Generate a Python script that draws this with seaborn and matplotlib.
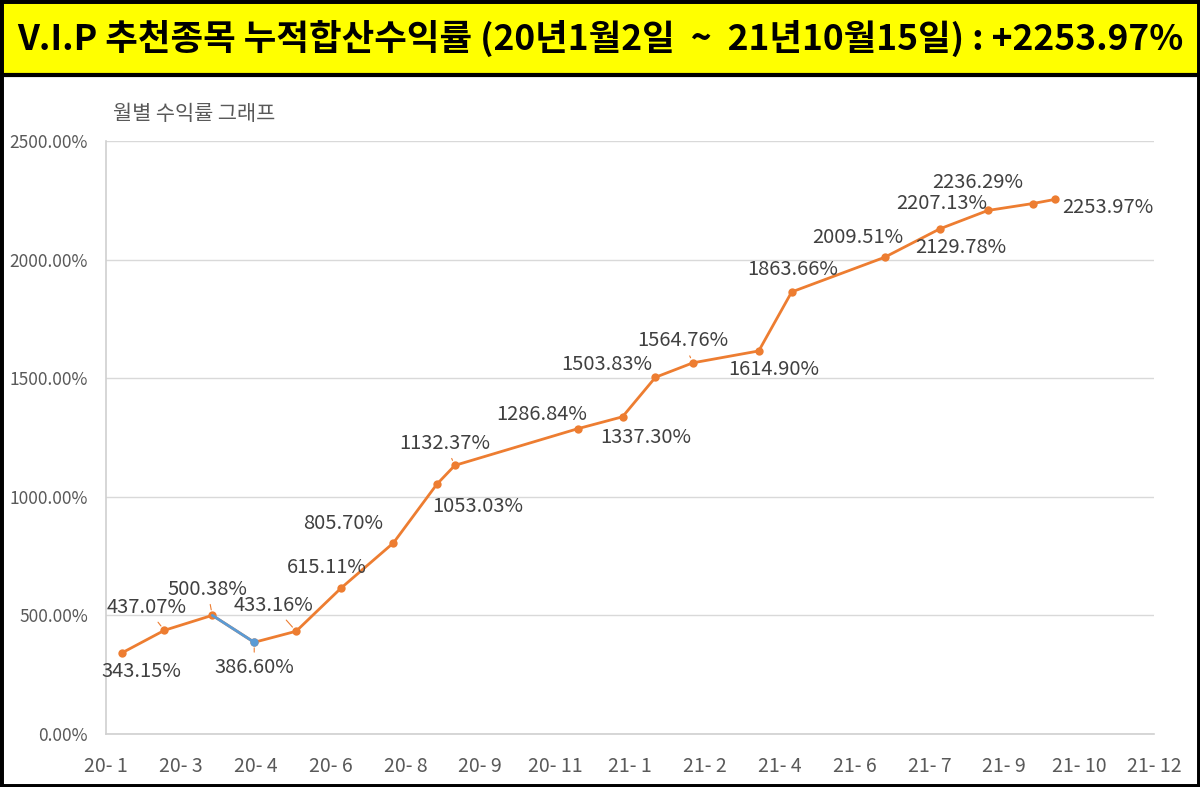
import pandas as pd
import numpy as np
import matplotlib
matplotlib.use("Agg")
import matplotlib.pyplot as plt
import matplotlib.dates as mdates
from matplotlib.patches import Rectangle
from matplotlib.ticker import FuncFormatter, MultipleLocator
import seaborn as sns

# cumulative return data
dates = ["2020-01-31", "2020-02-28", "2020-03-31", "2020-04-28", "2020-05-26",
         "2020-06-25", "2020-07-30", "2020-08-28", "2020-09-09", "2020-11-30",
         "2020-12-30", "2021-01-21", "2021-02-15", "2021-03-31", "2021-04-22",
         "2021-06-23", "2021-07-30", "2021-08-31", "2021-09-30", "2021-10-15"]
values = [343.15, 437.07, 500.38, 386.60, 433.16, 615.11, 805.70, 1053.03, 1132.37,
          1286.84, 1337.30, 1503.83, 1564.76, 1614.90, 1863.66, 2009.51, 2129.78,
          2207.13, 2236.29, 2253.97]
axis_start = "2020-01-20"
tick_step_days = 50
n_ticks = 15
title = "V.I.P 추천종목 누적합산수익률 (20년1월2일  ~  21년10월15일) : +2253.97%"
subtitle = "월별 수익률 그래프"
down_point = 3  # the point whose segment is drawn in blue

# label offsets in pixels (dx, dy) and whether a leader line is drawn
label_offsets = [(19, -19), (-18, 23), (-5, 26), (0, -25), (-23, 26), (-14, 21),
                 (-50, 19), (41, -22), (-10, 22), (-36, 14), (23, -21), (-49, 13),
                 (-10, 22), (15, -19), (1, 22), (-27, 20), (21, -19), (-46, 7),
                 (-55, 21), (53, -8)]
leaders = [1, 2, 3, 4, 8, 12]

df = pd.DataFrame({"date": pd.to_datetime(dates), "value": values})

sns.set_theme(style="white")
plt.rcParams['font.family'] = ['Noto Sans CJK KR', 'DejaVu Sans']

orange = "#ED7D31"
blue = "#5B9BD5"
gray_text = "#595959"

fig = plt.figure(figsize=(12, 7.87), dpi=100)
ax = fig.add_axes([106/1200, 1-734/787, (1154-106)/1200, (734-141)/787])

sns.lineplot(data=df, x="date", y="value", color=orange, lw=2, ax=ax,
             marker="o", markersize=6, markeredgewidth=0)
seg = df.iloc[down_point-1:down_point+1]
sns.lineplot(data=seg, x="date", y="value", color=blue, lw=2, ax=ax)
ax.plot(df["date"].iloc[down_point], df["value"].iloc[down_point], "o",
        color=blue, markersize=6, markeredgewidth=0)

for i, (d, v) in enumerate(zip(df["date"], df["value"])):
    dx, dy = label_offsets[i]
    ap = None
    if i in leaders:
        ap = dict(arrowstyle="-", color=orange, lw=0.8, shrinkA=1, shrinkB=4)
    ax.annotate(f"{v:.2f}%", (d, v), xytext=(dx, dy), textcoords="offset pixels",
                ha="center", va="center", fontsize=14.5, color="#404040",
                arrowprops=ap)

start = pd.Timestamp(axis_start)
tick_dates = pd.date_range(start, periods=n_ticks, freq=f"{tick_step_days}D")
ax.set_xlim(tick_dates[0], tick_dates[-1])
ax.set_xticks(tick_dates)
ax.xaxis.set_major_formatter(FuncFormatter(
    lambda v, p: f"{mdates.num2date(v):%y}- {mdates.num2date(v).month}"))
ax.set_ylim(0, 2500)
ax.yaxis.set_major_locator(MultipleLocator(500))
ax.yaxis.set_major_formatter(FuncFormatter(lambda v, p: f"{v:.2f}%"))
ax.grid(axis="y", color="#D9D9D9", lw=1)
ax.set_xlabel("")
ax.set_ylabel("")
ax.tick_params(axis="both", length=0, labelcolor=gray_text)
ax.tick_params(axis="y", pad=13, labelsize=12.5)
ax.tick_params(axis="x", pad=16, labelsize=14)
for s in ["top", "right"]:
    ax.spines[s].set_visible(False)
for s in ["left", "bottom"]:
    ax.spines[s].set_color("#D0D0D0")
    ax.spines[s].set_linewidth(1.2)

# yellow banner and frame
fig.patches.append(Rectangle((0, 1-75/787), 1, 75/787, transform=fig.transFigure,
                             facecolor="#FFFF00", edgecolor="black", lw=3, zorder=0))
fig.patches.append(Rectangle((0, 0), 1, 1, transform=fig.transFigure,
                             fill=False, edgecolor="black", lw=5, zorder=5))
fig.text(0.5, 1-38/787, title, ha="center", va="center", fontsize=25.5,
         fontweight="bold", color="black")
fig.text(113/1200, 1-114/787, subtitle, ha="left", va="center", fontsize=15,
         color=gray_text)

fig.savefig("out.png", dpi=100)
